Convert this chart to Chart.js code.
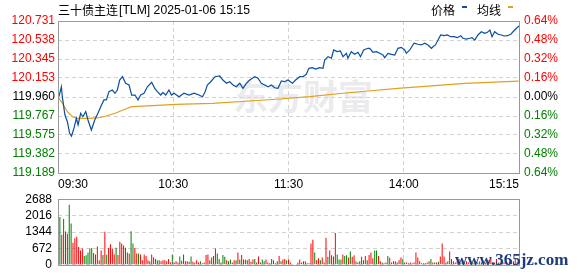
<!DOCTYPE html>
<html>
<head>
<meta charset="utf-8">
<script src="https://cdn.jsdelivr.net/npm/chart.js@4.4.1/dist/chart.umd.min.js"></script>
<style>
html,body{margin:0;padding:0;background:#fff;overflow:hidden;width:578px;height:276px}
#priceChart{position:absolute;left:0;top:0}
#volChart{position:absolute;left:0;top:186px}
</style>
</head>
<body>
<canvas id="priceChart" width="578" height="190"></canvas>
<canvas id="volChart" width="578" height="92"></canvas>
<script>
// data
var titleName = '三十债主连';
var titleInfo = '[TLM] 2025-01-06 15:15';
var timeLabels = ['09:30', '10:30', '11:30', '14:00', '15:15'];
var timeTicks = [0, 61.5, 123, 184.5, 246];
var priceTicks = [119.189, 119.382, 119.575, 119.767, 119.960, 120.153, 120.345, 120.538, 120.731];
var pctLabels = ['0.64%', '0.48%', '0.32%', '0.16%', '0.00%', '0.16%', '0.32%', '0.48%', '0.64%'];
var volTicks = [0, 672, 1344, 2016, 2688];

var priceX = [0.5,1.8,2.3,3.7,5.0,6.2,7.2,8.5,9.8,10.7,12.1,13.3,14.8,16.0,17.8,19.6,21.3,22.8,24.5,25.8,27.2,
  29.0,30.4,31.7,32.9,34.4,36.1,37.9,39.3,41.1,42.7,44.1,45.9,47.7,50.0,51.6,53.0,54.8,56.0,57.5,59.2,
  60.5,61.9,64.6,67.2,69.9,72.6,75.2,77.1,78.4,79.7,81.5,83.8,86.3,88.0,89.9,91.6,93.4,95.2,97.0,98.7,
  100.5,102.3,105.0,106.7,108.5,110.3,112.1,113.9,115.6,117.4,119.2,121.0,122.7,125.1,126.8,129.0,130.7,132.5,133.9,135.7,
  137.5,139.6,141.4,142.3,144.1,145.9,147.1,148.9,150.7,152.1,153.9,154.7,156.5,158.3,160.1,161.4,163.1,165.4,166.3,168.1,
  169.9,171.7,173.4,174.3,176.1,177.9,179.7,181.4,183.2,185.0,185.9,187.7,190.0,192.1,193.9,195.7,197.4,199.3,200.1,201.4,
  202.8,204.2,206.0,207.8,209.5,211.3,213.1,214.9,216.1,217.9,219.7,220.9,222.4,224.1,225.9,227.7,229.1,230.5,231.6,233.0,
  234.8,236.6,238.0,239.8,241.6,242.8,244.6,246.0];
var price = [119.963,120.064,119.963,119.777,119.709,119.592,119.564,119.642,119.744,119.676,119.795,
  119.760,119.811,119.727,119.625,119.727,119.795,119.862,119.930,119.930,120.014,
  120.031,119.998,120.031,120.132,120.166,120.099,120.082,119.980,119.980,119.930,
  119.980,119.998,120.064,120.109,120.048,120.014,119.980,120.004,119.980,120.031,
  119.980,119.998,119.963,119.998,119.980,119.998,119.980,119.963,120.008,120.082,
  120.115,120.166,120.173,120.132,120.099,120.115,120.082,120.064,120.099,120.048,
  120.099,120.132,120.166,120.150,120.099,120.082,120.064,120.082,120.054,120.048,
  120.122,120.115,120.132,120.099,120.132,120.166,120.166,120.190,120.251,120.257,
  120.244,120.257,120.251,120.335,120.369,120.353,120.437,120.420,120.427,120.369,
  120.403,120.353,120.420,120.393,120.414,120.369,120.437,120.454,120.454,120.414,
  120.420,120.403,120.386,120.359,120.403,120.393,120.386,120.454,120.464,120.437,
  120.403,120.437,120.505,120.495,120.488,120.505,120.488,120.454,120.470,120.488,
  120.538,120.589,120.582,120.589,120.572,120.572,120.562,120.582,120.556,120.548,
  120.556,120.562,120.538,120.589,120.622,120.606,120.616,120.640,120.572,120.622,
  120.596,120.589,120.579,120.582,120.596,120.622,120.657,120.680];

var avgX = [0.5,2.3,5.0,7.7,10.4,16.5,21.9,24.4,30.8,36.1,39.3,50.4,62.8,82.4,116.5,134.3,152.1,165.3,181.3,199.3,217.0,245.8];
var avgPrice = [119.947,119.899,119.811,119.760,119.744,119.744,119.750,119.760,119.798,119.838,119.862,119.872,119.886,119.896,119.937,119.963,119.998,120.021,120.048,120.072,120.099,120.122];

var volume = [1960,1234,1876,1367,1270,2456,1694,908,1089,1150,
  726,581,666,363,387,508,666,690,484,424,
  750,182,581,399,1355,411,690,847,666,424,
  702,399,944,871,787,702,508,460,1379,871,
  690,460,460,424,182,424,363,182,145,424,
  303,242,182,182,145,182,182,145,242,97,
  424,97,145,97,339,169,424,145,145,121,
  339,121,97,182,97,
  145,60,97,399,424,182,303,363,666,460,
  242,97,399,327,182,145,218,97,182,182,
  508,218,399,218,218,182,242,121,218,242,
  97,339,97,218,145,218,97,60,242,182,
  60,145,363,145,218,242,182,218,97,24,
  24,24,97,218,97,145,145,60,60,871,
  1029,508,182,266,182,303,97,1113,327,581,
  387,339,1307,424,218,218,424,363,387,303,
  545,327,387,145,97,145,327,182,363,182,
  399,508,266,581,581,363,145,97,60,97,
  363,290,97,145,145,97,182,303,
  242,97,97,60,97,60,97,508,303,145,
  60,60,60,97,145,242,97,97,97,121,
  339,871,339,97,145,545,242,145,97,145,
  242,97,182,97,145,97,145,97,97,60,
  97,145,97,60,97,145,182,303,97,97,
  242,97,97,97,97,145,97,97,182,145,
  266,97];
// 1 = up (red), 0 = down (green)
var volUp = [0,1,0,0,1,0,0,1,1,1,
  1,1,1,0,0,0,0,0,1,1,
  1,1,1,0,1,0,1,1,1,1,
  0,1,1,1,1,0,0,1,0,0,
  1,1,0,1,1,1,1,1,0,1,
  1,1,0,0,1,1,1,1,1,1,
  0,1,1,1,0,1,0,1,1,1,
  0,1,1,1,1,
  0,0,1,1,1,0,1,1,1,0,
  0,1,0,0,1,0,0,1,1,0,
  1,0,1,0,1,0,1,1,1,0,
  1,1,0,0,0,1,1,0,0,1,
  1,0,1,0,1,1,0,1,1,0,
  1,0,1,1,1,1,1,0,1,1,
  1,0,1,1,0,1,1,1,0,1,
  0,1,1,0,0,0,1,0,0,1,
  0,1,1,0,1,0,0,1,1,0,
  1,1,1,0,0,1,1,0,1,1,
  0,1,1,0,1,0,1,1,
  0,0,1,1,1,1,1,1,1,0,
  0,1,0,1,1,0,1,0,1,0,
  1,1,1,0,0,1,0,1,1,1,
  1,0,1,0,1,1,1,0,1,1,
  0,1,1,1,1,0,1,1,0,1,
  1,0,1,0,1,1,1,0,1,1,
  1,1];

var RED = '#ff0000', GREEN = '#008000', GRID = '#d2d2d2';
var tickFont = { family: 'Liberation Sans', size: 12 };

function priceColor(i) {
  if (i === 4) return '#000000';
  return i > 4 ? RED : GREEN;
}

var boxPlugin = {
  id: 'box',
  afterDraw: function (chart) {
    var a = chart.chartArea, c = chart.ctx;
    c.save();
    c.strokeStyle = '#999999';
    c.lineWidth = 1;
    c.strokeRect(Math.round(a.left) + 0.5, Math.round(a.top) + 0.5, Math.round(a.right - a.left), Math.round(a.bottom - a.top));
    c.restore();
  }
};

var headPlugin = {
  id: 'head',
  beforeDatasetsDraw: function (chart) {
    var c = chart.ctx;
    c.save();
    c.fillStyle = 'rgba(215,215,222,0.5)';
    c.font = 'bold 35px "Noto Sans CJK SC"';
    c.textBaseline = 'middle';
    c.fillText('东方财富', 233, 97);
    c.restore();
  },
  afterDraw: function (chart) {
    var c = chart.ctx;
    c.save();
    c.fillStyle = '#000';
    c.textBaseline = 'middle';
    c.font = '12px "Noto Sans CJK SC"';
    c.fillText(titleName, 58, 10);
    c.font = '13px "Liberation Sans"';
    c.fillText(titleInfo, 119, 10, 131);
    c.font = '12px "Noto Sans CJK SC"';
    c.fillText('价格', 431, 10);
    c.fillText('均线', 477, 10);
    c.fillStyle = '#1050a0';
    c.fillRect(462, 6, 5, 2);
    c.fillStyle = '#e0a020';
    c.fillRect(508, 6, 5, 2);
    c.restore();
  }
};

var markPlugin = {
  id: 'mark',
  afterDraw: function (chart) {
    var c = chart.ctx;
    c.save();
    c.fillStyle = '#1f3d7a';
    c.font = 'bold 17px "Liberation Serif"';
    c.textBaseline = 'middle';
    c.fillText('www.365jz.com', 455, 75);
    c.restore();
  }
};

function xScale(showTicks) {
  return {
    type: 'linear',
    min: 0,
    max: 246,
    offset: false,
    afterBuildTicks: function (s) { s.ticks = timeTicks.map(function (v) { return { value: v }; }); },
    afterFit: function (s) { s.height = showTicks ? 17 : 0; },
    grid: { color: GRID, drawTicks: false, offset: false },
    border: { display: false, dash: [4, 3] },
    ticks: {
      display: showTicks,
      autoSkip: false,
      maxRotation: 0,
      align: 'inner',
      padding: 4,
      color: '#000',
      font: tickFont,
      callback: function (v, i) { return timeLabels[i]; }
    }
  };
}

new Chart(document.getElementById('priceChart'), {
  type: 'line',
  data: {
    datasets: [{
      label: '价格',
      data: priceX.map(function (x, i) { return { x: x, y: price[i] }; }),
      borderColor: '#0a4fa0',
      borderWidth: 1.2,
      pointRadius: 0,
      tension: 0
    }, {
      label: '均线',
      data: avgX.map(function (x, i) { return { x: x, y: avgPrice[i] }; }),
      borderColor: '#e0a020',
      borderWidth: 1.2,
      pointRadius: 0,
      tension: 0
    }]
  },
  options: {
    responsive: false,
    animation: false,
    layout: { padding: { top: 21, left: 0, right: 0, bottom: 0 } },
    plugins: { legend: { display: false }, tooltip: { enabled: false } },
    scales: {
      x: xScale(true),
      y: {
        position: 'left',
        min: priceTicks[0],
        max: priceTicks[priceTicks.length - 1],
        afterBuildTicks: function (s) { s.ticks = priceTicks.map(function (v) { return { value: v }; }); },
        afterFit: function (s) { s.width = 58; },
        grid: { color: GRID, drawTicks: false },
        border: { display: false, dash: [4, 3] },
        ticks: {
          padding: 3,
          font: tickFont,
          color: function (ctx) { return priceColor(ctx.index); },
          callback: function (v, i) { return priceTicks[i].toFixed(3); }
        }
      },
      y2: {
        position: 'right',
        min: priceTicks[0],
        max: priceTicks[priceTicks.length - 1],
        afterBuildTicks: function (s) { s.ticks = priceTicks.map(function (v) { return { value: v }; }); },
        afterFit: function (s) { s.width = 59; },
        grid: { display: false, drawTicks: false },
        border: { display: false },
        ticks: {
          padding: 5,
          font: tickFont,
          color: function (ctx) { return priceColor(ctx.index); },
          callback: function (v, i) { return pctLabels[i]; }
        }
      }
    }
  },
  plugins: [headPlugin, boxPlugin]
});

new Chart(document.getElementById('volChart'), {
  type: 'bar',
  data: {
    datasets: [{
      label: '成交量',
      data: volume.map(function (v, i) { return { x: i + 1, y: v }; }),
      backgroundColor: volUp.map(function (u) { return u ? RED : GREEN; }),
      barThickness: 1,
      inflateAmount: 0
    }]
  },
  options: {
    responsive: false,
    animation: false,
    layout: { padding: { top: 10, left: 0, right: 59, bottom: 8 } },
    plugins: { legend: { display: false }, tooltip: { enabled: false } },
    scales: {
      x: xScale(false),
      y: {
        position: 'left',
        min: 0,
        max: 2688,
        afterBuildTicks: function (s) { s.ticks = volTicks.map(function (v) { return { value: v }; }); },
        afterFit: function (s) { s.width = 58; },
        grid: { color: GRID, drawTicks: false },
        border: { display: false, dash: [4, 3] },
        ticks: {
          padding: 6,
          font: tickFont,
          color: '#000',
          callback: function (v, i) { return String(volTicks[i]); }
        }
      }
    }
  },
  plugins: [boxPlugin, markPlugin]
});
</script>
</body>
</html>
